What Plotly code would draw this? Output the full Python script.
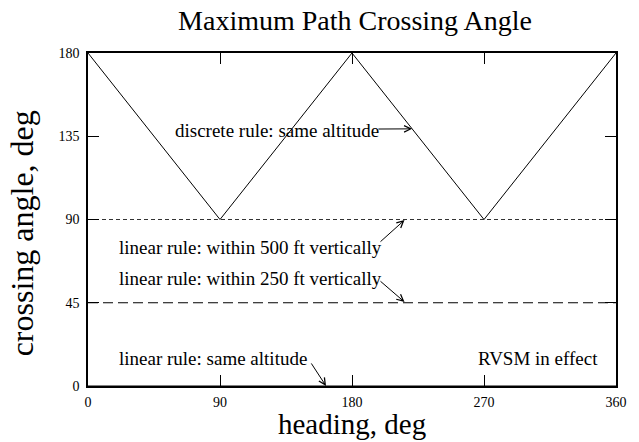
"""Maximum path crossing angle chart."""

import plotly.graph_objects as go

# data
heading = [0, 90, 180, 270, 360]
discrete_same_alt = [180, 90, 180, 90, 180]

linear_heading = [0, 360]
linear_500ft = [90, 90]
linear_250ft = [45, 45]
linear_same_alt = [0, 0]

x_ticks = [0, 90, 180, 270, 360]
y_ticks = [0, 45, 90, 135, 180]

FONT = "Liberation Serif, Times New Roman, serif"

fig = go.Figure()
fig.add_trace(go.Scatter(x=heading, y=discrete_same_alt, mode="lines",
                         line=dict(color="black", width=1)))
fig.add_trace(go.Scatter(x=linear_heading, y=linear_500ft, mode="lines",
                         line=dict(color="#333", width=1, dash="4px,3px")))
fig.add_trace(go.Scatter(x=linear_heading, y=linear_250ft, mode="lines",
                         line=dict(color="black", width=1, dash="10px,5px")))
fig.add_trace(go.Scatter(x=linear_heading, y=linear_same_alt, mode="lines",
                         line=dict(color="black", width=1)))

# labels and their arrows (tail -> tip)
labels = [
    ("discrete rule: same altitude", 200, 138, "right"),
    ("linear rule: within 500 ft vertically", 20, 75, "left"),
    ("linear rule: within 250 ft vertically", 20, 58, "left"),
    ("linear rule: same altitude", 20, 15, "left"),
    ("RVSM in effect", 307, 15, "center"),
]
arrows = [
    (197, 138.9, 221, 139),
    (198.4, 77.3, 215.8, 89.7),
    (198.4, 57.3, 215.8, 45.4),
    (151.6, 13, 162.3, 0),
]

annotations = []
for text, x, y, anchor in labels:
    annotations.append(dict(x=x, y=y, text=text, showarrow=False, xanchor=anchor,
                            yanchor="middle", font=dict(size=19, color="black")))
for ax, ay, x, y in arrows:
    annotations.append(dict(x=x, y=y, ax=ax, ay=ay, axref="x", ayref="y", text="",
                            showarrow=True, arrowhead=5, arrowsize=1.3, arrowwidth=1,
                            arrowcolor="black"))

# axis titles
annotations.append(dict(x=0.5, y=-0.114, xref="paper", yref="paper", text="heading, deg",
                        showarrow=False, xanchor="center", yanchor="middle",
                        font=dict(size=29, color="black")))
annotations.append(dict(x=-0.1234, y=0.458, xref="paper", yref="paper",
                        text="crossing angle, deg", textangle=-90, showarrow=False,
                        xanchor="center", yanchor="middle",
                        font=dict(size=32, color="black")))

# page body has an 8px margin, so the figure is drawn 8px smaller
fig.update_layout(
    width=631,
    height=434,
    margin=dict(l=80, r=12, t=45, b=56),
    paper_bgcolor="white",
    plot_bgcolor="white",
    showlegend=False,
    font=dict(family=FONT, color="black"),
    title=dict(text="Maximum Path Crossing Angle", x=0.55, xanchor="center",
               y=1 - 12 / 434, yanchor="middle", font=dict(size=28)),
    annotations=annotations,
)
fig.update_xaxes(range=[0, 360], tickvals=x_ticks, ticks="inside", ticklen=11,
                 tickcolor="black", showline=True, linecolor="black", linewidth=1.5,
                 mirror="ticks", showgrid=False, zeroline=False,
                 tickfont=dict(size=14), ticklabelstandoff=2)
fig.update_yaxes(range=[0, 180], tickvals=y_ticks, ticks="inside", ticklen=11,
                 tickcolor="black", showline=True, linecolor="black", linewidth=1.5,
                 mirror="ticks", showgrid=False, zeroline=False,
                 tickfont=dict(size=14), ticklabelstandoff=4)

fig.write_html("out.html")
